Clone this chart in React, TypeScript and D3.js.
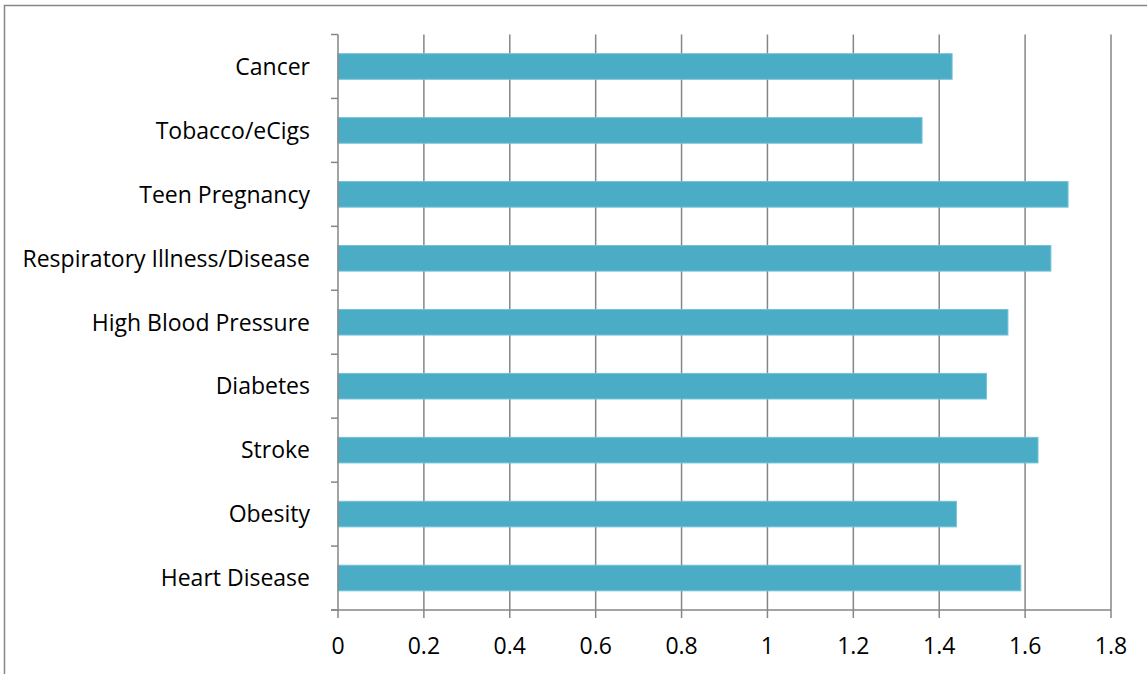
import React from "react";
import * as d3 from "d3";

const categories = [
  "Cancer",
  "Tobacco/eCigs",
  "Teen Pregnancy",
  "Respiratory Illness/Disease",
  "High Blood Pressure",
  "Diabetes",
  "Stroke",
  "Obesity",
  "Heart Disease",
];
const values = [1.43, 1.36, 1.7, 1.66, 1.56, 1.51, 1.63, 1.44, 1.59];
const xTicks = [0, 0.2, 0.4, 0.6, 0.8, 1, 1.2, 1.4, 1.6, 1.8];

const W = 1147;
const H = 674;
const left = 338;
const right = 1111;
const top = 34.5;
const bottom = 610;
const FONT = "'Open Sans', sans-serif";
const GRID = "#868686";

export default function App() {
  const x = d3.scaleLinear().domain([0, 1.8]).range([left, right]);
  const y = d3.scaleBand<string>().domain(categories).range([top, bottom]).paddingInner(0.6).paddingOuter(0.3);
  const step = (bottom - top) / categories.length;
  const boundaries = d3.range(categories.length + 1).map((i) => top + i * step);

  return (
    <svg
      width={W}
      height={H}
      style={{ position: "absolute", left: 0, top: 0, background: "#fff" }}
      fontFamily={FONT}
    >
      <rect x={4.5} y={5.5} width={W + 10} height={H + 10} fill="#fff" stroke={GRID} strokeWidth={1.5} />
      {xTicks.slice(1).map((t) => (
        <line key={"g" + t} x1={x(t)} x2={x(t)} y1={top} y2={bottom} stroke={GRID} strokeWidth={1.5} />
      ))}
      {categories.map((c, i) => (
        <rect
          key={c}
          x={x(0)}
          y={y(c)}
          width={x(values[i]) - x(0)}
          height={y.bandwidth()}
          fill="#4BACC6"
          stroke="#72c2d8"
          strokeWidth={1}
        />
      ))}
      <line x1={left} x2={left} y1={top} y2={bottom} stroke={GRID} strokeWidth={1.5} />
      {boundaries.map((b, i) => (
        <line key={"yt" + i} x1={left - 7} x2={left} y1={b} y2={b} stroke={GRID} strokeWidth={1.5} />
      ))}
      <line x1={left - 7} x2={right} y1={bottom} y2={bottom} stroke={GRID} strokeWidth={1.5} />
      {xTicks.map((t) => (
        <line key={"xt" + t} x1={x(t)} x2={x(t)} y1={bottom} y2={bottom + 8} stroke={GRID} strokeWidth={1.5} />
      ))}
      {categories.map((c) => (
        <text
          key={"l" + c}
          x={310}
          y={(y(c) as number) + y.bandwidth() / 2}
          dy="0.36em"
          textAnchor="end"
          fontSize={23}
          fill="#000"
        >
          {c}
        </text>
      ))}
      {xTicks.map((t) => (
        <text key={"xl" + t} x={x(t)} y={654} textAnchor="middle" fontSize={23} fill="#000">
          {String(t)}
        </text>
      ))}
    </svg>
  );
}
